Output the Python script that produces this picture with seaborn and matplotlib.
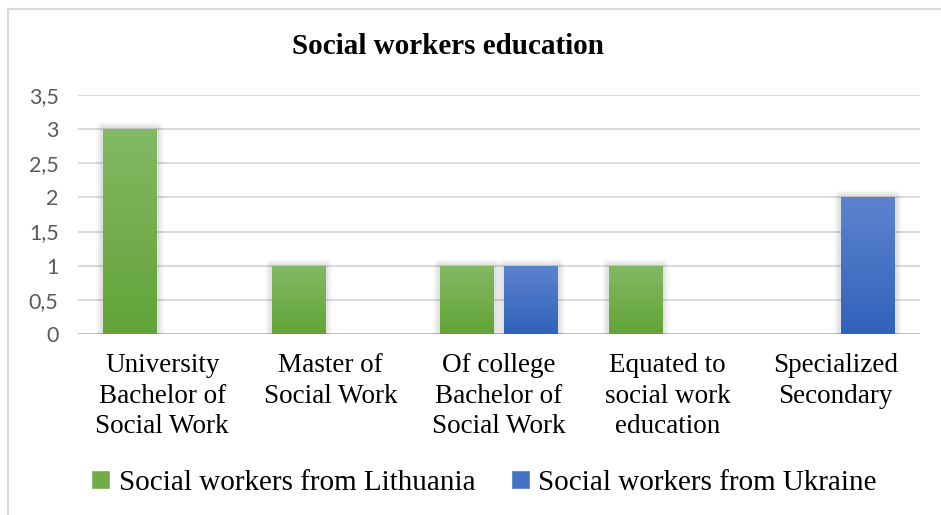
import numpy as np
import pandas as pd
import matplotlib
matplotlib.use("Agg")
import matplotlib.pyplot as plt
import matplotlib.colors as mcolors
from matplotlib.patches import Rectangle
import seaborn as sns

categories = ["University\nBachelor of\nSocial Work", "Master of\nSocial Work",
              "Of college\nBachelor of\nSocial Work", "Equated to\nsocial work\neducation",
              "Specialized\nSecondary"]
lithuania = [3, 1, 1, 1, 0]
ukraine = [0, 0, 1, 0, 2]
series_names = ["Social workers from Lithuania", "Social workers from Ukraine"]
y_ticks = [0, 0.5, 1, 1.5, 2, 2.5, 3, 3.5]
y_tick_labels = ["0", "0,5", "1", "1,5", "2", "2,5", "3", "3,5"]

df = pd.DataFrame({
    "category": categories * 2,
    "value": lithuania + ukraine,
    "series": [series_names[0]] * len(categories) + [series_names[1]] * len(categories),
})

base_colors = {series_names[0]: "#70ad47", series_names[1]: "#4472c4"}
grad = {series_names[0]: ("#82b964", "#63a338"), series_names[1]: ("#5d83cd", "#3062bb")}

sns.set_theme(style="white")
plt.rcParams["font.family"] = ["Liberation Serif", "DejaVu Serif"]
plt.rcParams["text.color"] = "black"

fig = plt.figure(figsize=(9.41, 5.15), dpi=100)
ax = fig.add_axes([78 / 941, 1 - 334 / 515, (920 - 78) / 941, (334 - 95) / 515])

sns.barplot(data=df, x="category", y="value", hue="series", palette=base_colors,
            width=0.76, gap=0.16, ax=ax, legend=False, zorder=3)

ax.set_ylim(0, 3.5)
ax.set_xlim(-0.5, len(categories) - 0.5)
ax.set_yticks(y_ticks)
ax.set_yticklabels(y_tick_labels, fontfamily=["Lato", "DejaVu Sans"], fontsize=15.5,
                   color="#595959")
ax.tick_params(axis="y", length=0, pad=14)
ax.tick_params(axis="x", length=0, pad=14)
for lab in ax.get_xticklabels():
    lab.set_fontsize(19.5)
    lab.set_linespacing(1.28)
    lab.set_color("black")
ax.set_xlabel("")
ax.set_ylabel("")
for s in ax.spines.values():
    s.set_visible(False)
for y in y_ticks:
    ax.axhline(y, color="#d9d9d9", lw=1.4, zorder=1)
ax.axhline(0, color="#bfbfbf", lw=1.4, zorder=1)

# vertical gradient fill and soft shadow on each bar
n = len(categories)
for i, patch in enumerate(list(ax.patches)):
    h = patch.get_height()
    if h <= 0:
        patch.set_visible(False)
        continue
    name = series_names[i // n]
    top, bottom = grad[name]
    x0, w = patch.get_x(), patch.get_width()
    for lw, a in [(10, 0.04), (7, 0.06), (4, 0.08)]:
        ax.add_patch(Rectangle((x0, 0), w, h, facecolor="none", edgecolor="#505050",
                               lw=lw, alpha=a, zorder=2, joinstyle="round"))
    cmap = mcolors.LinearSegmentedColormap.from_list("g", [bottom, top])
    img = ax.imshow(np.linspace(0, 1, 256).reshape(-1, 1), cmap=cmap, origin="lower",
                    extent=[x0, x0 + w, 0, h], aspect="auto", zorder=3.5)
    img.set_clip_path(patch)
    patch.set_facecolor("none")
    patch.set_edgecolor("none")
ax.set_xlim(-0.5, len(categories) - 0.5)
ax.set_ylim(0, 3.5)

fig.text(448 / 941, 1 - 47 / 515, "Social workers education", ha="center", va="center",
         fontsize=21, fontweight="bold", color="black")

handles = [Rectangle((0, 0), 1, 1, facecolor=base_colors[s]) for s in series_names]
fig.legend(handles, series_names, loc="center", bbox_to_anchor=(484 / 941, 1 - 483 / 515),
           ncol=2, frameon=False, fontsize=21, handlelength=0.65, handleheight=0.65,
           handletextpad=0.3, columnspacing=1.2, labelcolor="black")

fig.add_artist(Rectangle((8 / 941, -0.05), 1.2, 1.05 - 9 / 515, transform=fig.transFigure,
                         facecolor="none", edgecolor="#d9d9d9", lw=1.5))

fig.savefig("out.png", dpi=100)
